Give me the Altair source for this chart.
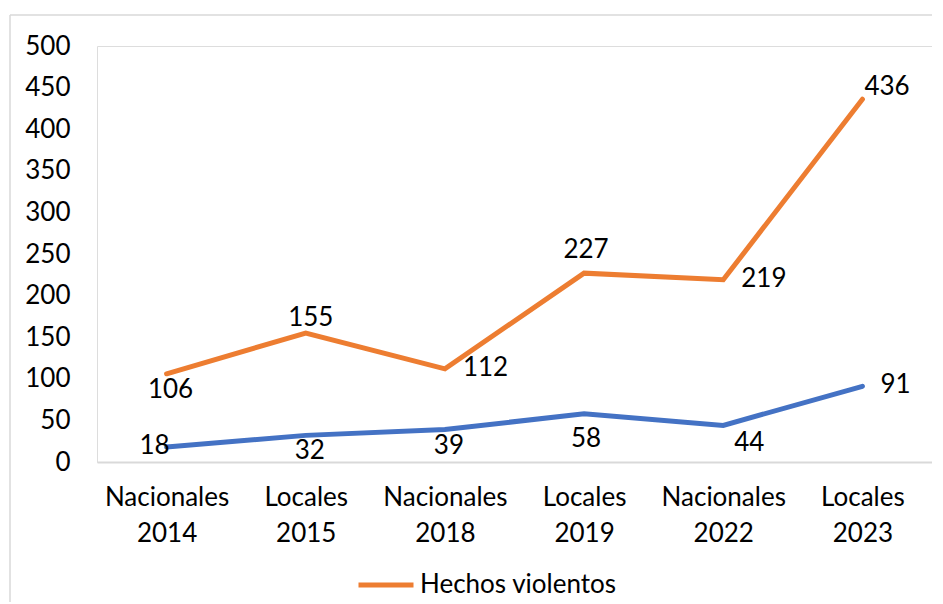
import altair as alt
import pandas as pd

categories = ["Nacionales 2014", "Locales 2015", "Nacionales 2018",
              "Locales 2019", "Nacionales 2022", "Locales 2023"]
hechos_violentos = [106, 155, 112, 227, 219, 436]
serie_azul = [18, 32, 39, 58, 44, 91]
series_names = ["Hechos violentos", "Serie 2"]
series_colors = ["#ED7D31", "#4472C4"]
y_ticks = [0, 50, 100, 150, 200, 250, 300, 350, 400, 450, 500]

# data label placement (Excel-style), one per point
hechos_label_pos = ["below", "above", "right", "above-high", "right", "above-right"]
azul_label_pos = ["left", "below", "below", "below-low", "below-right", "right"]

rows = []
for i, c in enumerate(categories):
    rows.append({"cat": c, "serie": series_names[0], "valor": hechos_violentos[i], "pos": hechos_label_pos[i], "ord": i})
    rows.append({"cat": c, "serie": series_names[1], "valor": serie_azul[i], "pos": azul_label_pos[i], "ord": i})
df = pd.DataFrame(rows)

FONT = "Lato"
FS = 26

x_enc = alt.X("cat:N", sort=categories,
              scale=alt.Scale(type="point", padding=0.5),
              axis=alt.Axis(title=None, labelExpr="split(datum.label, ' ')",
                            labelAngle=0, labelFontSize=FS, labelFont=FONT,
                            labelColor="#000000", labelLineHeight=36,
                            labelPadding=22, ticks=False,
                            domainColor="#D9D9D9", domainWidth=2, grid=False))
y_enc = alt.Y("valor:Q",
              scale=alt.Scale(domain=[0, 500], nice=False),
              axis=alt.Axis(title=None, values=y_ticks, labelFontSize=FS,
                            labelFont=FONT, labelColor="#000000",
                            labelPadding=27, ticks=False, domain=False, grid=False))
color_enc = alt.Color("serie:N",
                      scale=alt.Scale(domain=series_names, range=series_colors),
                      legend=alt.Legend(title=None, values=[series_names[0]],
                                        orient="none", legendX=259, legendY=509,
                                        symbolType="stroke", symbolSize=3025,
                                        symbolStrokeWidth=5, labelFontSize=FS,
                                        labelFont=FONT, labelColor="#000000",
                                        labelOffset=4, labelLimit=500))

base = alt.Chart(df)

lines = base.mark_line(strokeWidth=5, strokeCap="round").encode(
    x=x_enc, y=y_enc, color=color_enc, order="ord:Q", detail="serie:N")

placements = {
    "below": dict(dx=4, dy=16, align="center"),
    "below-low": dict(dx=2, dy=25, align="center"),
    "above": dict(dx=5, dy=-15, align="center"),
    "above-high": dict(dx=2, dy=-23, align="center"),
    "right": dict(dx=18, dy=-1, align="left"),
    "left": dict(dx=3, dy=-1, align="right"),
    "above-right": dict(dx=2, dy=-12, align="left"),
    "below-right": dict(dx=11, dy=18, align="left"),
}

label_layers = []
for name, p in placements.items():
    label_layers.append(
        base.transform_filter(alt.datum.pos == name).mark_text(
            fontSize=FS, font=FONT, color="#000000", baseline="middle",
            dx=p["dx"], dy=p["dy"], align=p["align"]
        ).encode(x=alt.X("cat:N", sort=categories), y="valor:Q", text="valor:Q")
    )

one = alt.Chart(pd.DataFrame({"a": [0]}))
frame_left = one.mark_rule(color="#D9D9D9", strokeWidth=1.5).encode(
    x=alt.value(-87), y=alt.value(-31), y2=alt.value(600))
frame_top = one.mark_rule(color="#D9D9D9", strokeWidth=1.5).encode(
    x=alt.value(-87), x2=alt.value(900), y=alt.value(-31))

chart = alt.layer(frame_left, frame_top, lines, *label_layers).properties(
    width=835, height=416,
    padding={"left": 89, "top": 38, "right": 0, "bottom": 140},
    autosize="none",
).configure_view(stroke=None).configure(font=FONT)

chart.save("out.html", embed_options={"renderer": "svg", "actions": False})
